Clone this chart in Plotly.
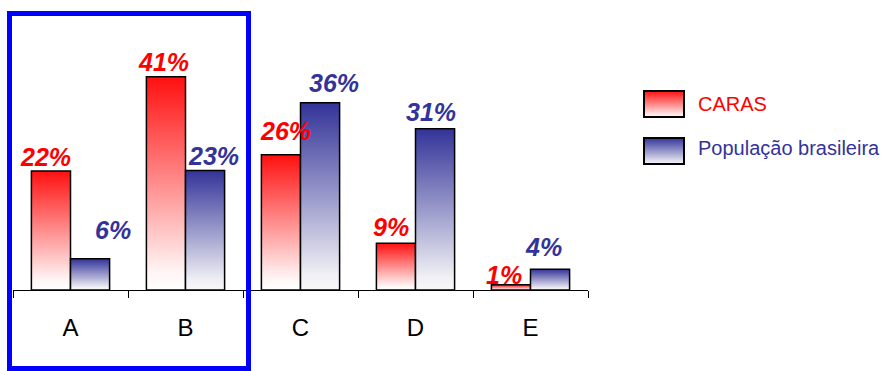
import base64
import plotly.graph_objects as go

# ---- data ----
categories = ["A", "B", "C", "D", "E"]
caras = [22.9, 41, 26, 9, 1]
populacao = [6, 23, 36, 31, 4]
caras_labels = ["22%", "41%", "26%", "9%", "1%"]
pop_labels = ["6%", "23%", "36%", "31%", "4%"]
series_names = ["CARAS", "População brasileira"]

# ---- styles / layout constants ----
W, H = 887, 371
ML, MR, MT, MB = 13, 299, 56, 81
PW, PH = W - ML - MR, H - MT - MB
BAR_W = 0.34
RED, NAVY = "#ff0000", "#333399"
red_scale = [[0, "#ffffff"], [0.08, "#fff6f6"], [1, "#ff1010"]]
blue_scale = [[0, "#f8f8fa"], [0.08, "#f0f0f5"], [1, "#333399"]]
# manual label offsets (px): (dx, gap above bar top)
caras_off = [(-5, 4), (-2, 5), (5, 14), (-5, 6), (-7, 0)]
pop_off = [(23, 19), (8, 4), (14, 10), (-4, 7), (-7, 12)]
DESC = 6  # text descent + pad inside annotation box

def px_x(p):
    return (p - ML) / PW

def px_y(p):
    return (H - MB - p) / PH

fig = go.Figure()

def add_bar(x0, x1, v, scale):
    fig.add_trace(go.Scatter(
        x=[x0, x1, x1, x0, x0], y=[0, 0, v, v, 0],
        mode="lines", fill="toself",
        fillgradient=dict(type="vertical", colorscale=scale),
        line=dict(color="black", width=1.5),
        hoverinfo="skip", showlegend=False))

label_font = dict(family="Liberation Sans Narrow, Arial Narrow, Liberation Sans, Arial",
                  size=25)
for i, cat in enumerate(categories):
    add_bar(i - BAR_W, i, caras[i], red_scale)
    add_bar(i, i + BAR_W, populacao[i], blue_scale)
    dx, gap = caras_off[i]
    fig.add_annotation(x=i - BAR_W / 2, y=caras[i], text=f"<b><i>{caras_labels[i]}</i></b>",
                       showarrow=False, xanchor="center", yanchor="bottom",
                       xshift=dx, yshift=gap - DESC,
                       font=dict(color=RED, **label_font))
    dx, gap = pop_off[i]
    fig.add_annotation(x=i + BAR_W / 2, y=populacao[i], text=f"<b><i>{pop_labels[i]}</i></b>",
                       showarrow=False, xanchor="center", yanchor="bottom",
                       xshift=dx, yshift=gap - DESC,
                       font=dict(color=NAVY, **label_font))

# legend swatches as gradient images
def swatch(top, bottom):
    svg = ('<svg xmlns="http://www.w3.org/2000/svg" width="42" height="28">'
           '<defs><linearGradient id="g" x1="0" y1="0" x2="0" y2="1">'
           f'<stop offset="0" stop-color="{top}"/><stop offset="1" stop-color="{bottom}"/>'
           '</linearGradient></defs>'
           '<rect x="1" y="1" width="40" height="26" fill="url(#g)" stroke="black" stroke-width="2"/></svg>')
    return "data:image/svg+xml;base64," + base64.b64encode(svg.encode()).decode()

legend_items = [(series_names[0], RED, "#ff1010", "#ffffff", 90, 104),
                (series_names[1], NAVY, "#333399", "#f8f8fa", 137, 148)]
images = []
for name, tcol, top, bot, ytop, ytext in legend_items:
    images.append(dict(source=swatch(top, bot), xref="paper", yref="paper",
                       x=px_x(643), y=px_y(ytop), sizex=42 / PW, sizey=28 / PH,
                       xanchor="left", yanchor="top", sizing="stretch", layer="above"))
    fig.add_annotation(x=px_x(696), y=px_y(ytext), xref="paper", yref="paper",
                       text=name, showarrow=False, xanchor="left", yanchor="middle",
                       font=dict(family="Liberation Sans, Arial", size=20, color=tcol))

fig.update_layout(
    width=W, height=H, margin=dict(l=ML, r=MR, t=MT, b=MB),
    paper_bgcolor="white", plot_bgcolor="white",
    images=images,
    xaxis=dict(range=[-0.5, len(categories) - 0.5], tickmode="array",
               tickvals=list(range(len(categories))), ticktext=categories,
               ticks="", showgrid=False, zeroline=False,
               showline=True, linecolor="black", linewidth=1,
               ticklabelstandoff=16,
               tickfont=dict(family="Liberation Sans, Arial", size=24, color="black"),
               minor=dict(tickmode="array",
                          tickvals=[k - 0.5 for k in range(len(categories) + 1)],
                          ticks="outside", ticklen=7, tickcolor="black", tickwidth=1,
                          showgrid=False)),
    yaxis=dict(range=[0, 45], visible=False, showgrid=False, zeroline=False),
    shapes=[dict(type="rect", xref="paper", yref="paper",
                 x0=px_x(9.5), x1=px_x(248.5), y0=px_y(368.5), y1=px_y(13.5),
                 line=dict(color="#0000ff", width=5), fillcolor="rgba(0,0,0,0)",
                 layer="above")],
)

fig.write_html("out.html")
